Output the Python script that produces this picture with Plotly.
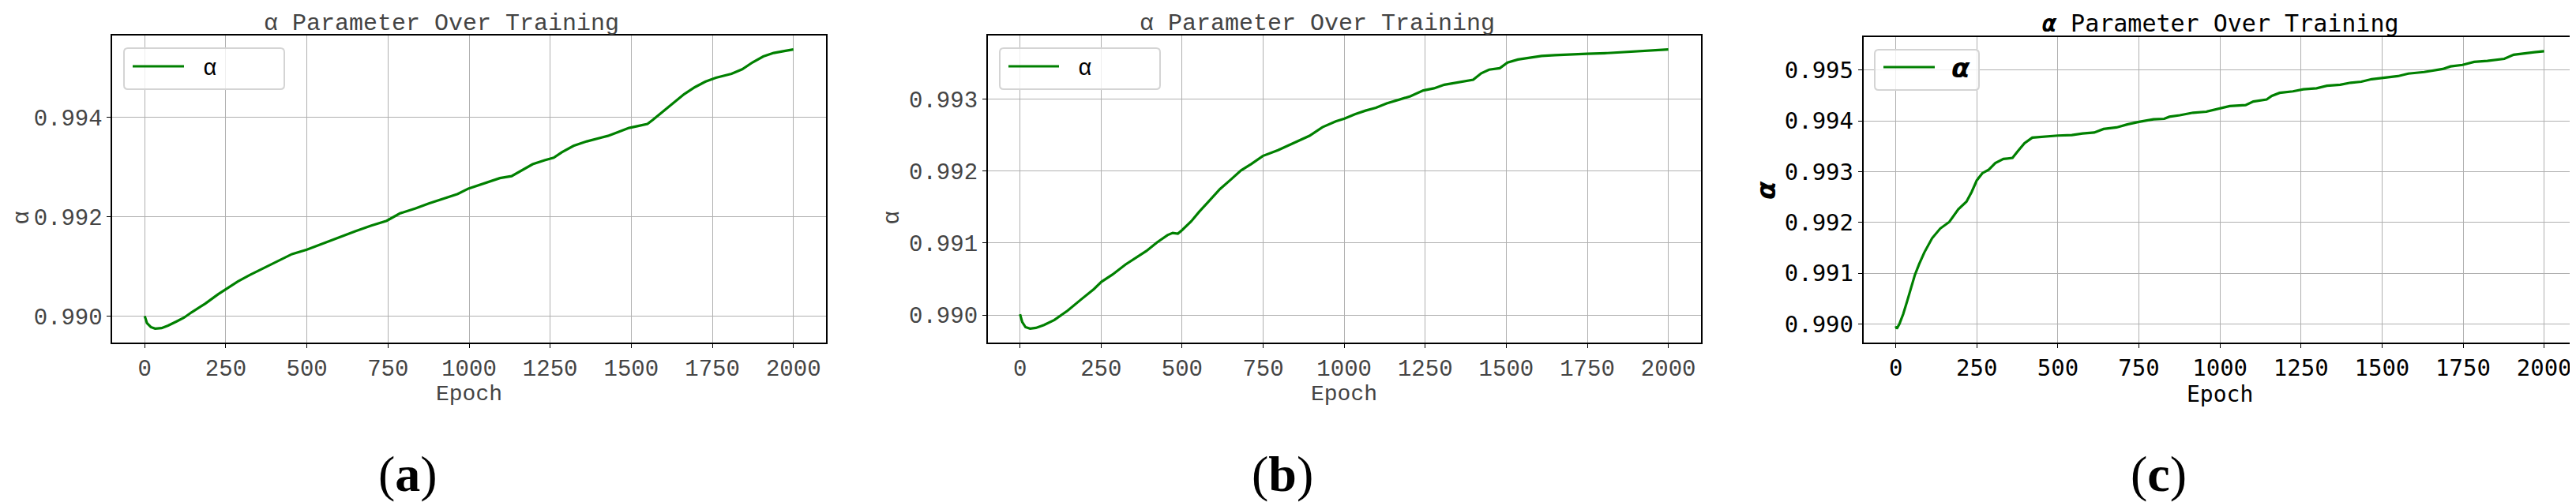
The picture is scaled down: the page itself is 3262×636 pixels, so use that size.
import plotly.graph_objects as go

W, H = 3262, 636

# alpha values
epochs_a = [0, 7, 19, 32, 52, 72, 97, 121, 145, 186, 226, 251, 287, 324, 364, 405, 454, 500, 551, 600,
            649, 697, 746, 787, 835, 876, 925, 965, 998, 1030, 1063, 1095, 1131, 1160, 1196, 1233, 1261, 1286, 1322, 1363,
            1395, 1428, 1460, 1493, 1521, 1550, 1566, 1598, 1631, 1663, 1696, 1728, 1761, 1809, 1842, 1874, 1907, 1939, 1972, 2000]
alpha_a = [0.99000, 0.98986, 0.98978, 0.98975, 0.98976, 0.98981, 0.98989, 0.98997, 0.99008, 0.99025,
           0.99044, 0.99055, 0.99070, 0.99083, 0.99096, 0.99109, 0.99125, 0.99134, 0.99147, 0.99159,
           0.99171, 0.99182, 0.99192, 0.99207, 0.99217, 0.99227, 0.99238, 0.99246, 0.99257, 0.99264,
           0.99272, 0.99278, 0.99282, 0.99293, 0.99306, 0.99314, 0.99319, 0.99330, 0.99343, 0.99352,
           0.99358, 0.99363, 0.99371, 0.99379, 0.99383, 0.99387, 0.99395, 0.99412, 0.99431, 0.99447,
           0.99461, 0.99472, 0.99480, 0.99488, 0.99497, 0.99511, 0.99523, 0.99530, 0.99534, 0.99537]

epochs_b = [0, 7, 17, 31, 49, 74, 106, 147, 187, 228, 251, 285, 325, 366, 390, 423, 455, 471, 487, 500,
            528, 552, 585, 617, 650, 682, 714, 749, 796, 844, 893, 933, 974, 1001, 1033, 1066, 1098, 1131, 1163, 1204,
            1244, 1277, 1309, 1350, 1398, 1423, 1447, 1480, 1504, 1536, 1569, 1609, 1650, 1690, 1749, 1812, 1877, 1942, 2000]
alpha_b = [0.99001, 0.98990, 0.98983, 0.98981, 0.98982, 0.98986, 0.98993, 0.99006, 0.99021, 0.99036,
           0.99046, 0.99056, 0.99070, 0.99082, 0.99089, 0.99101, 0.99111, 0.99114, 0.99113, 0.99118,
           0.99130, 0.99143, 0.99159, 0.99175, 0.99188, 0.99201, 0.99210, 0.99221, 0.99229, 0.99239,
           0.99249, 0.99261, 0.99269, 0.99273, 0.99279, 0.99284, 0.99288, 0.99294, 0.99298, 0.99304,
           0.99312, 0.99315, 0.99320, 0.99323, 0.99327, 0.99336, 0.99341, 0.99343, 0.99351, 0.99355,
           0.99357, 0.99360, 0.99361, 0.99362, 0.99363, 0.99364, 0.99366, 0.99368, 0.99369]

epochs_c = [0, 3, 11, 23, 35, 47, 59, 72, 88, 112, 137, 165, 193, 218, 234, 250, 267, 287, 307, 332,
            360, 376, 397, 421, 454, 500, 543, 576, 612, 641, 681, 714, 750, 795, 828, 844, 876, 917, 958, 1000,
            1030, 1079, 1103, 1144, 1160, 1184, 1225, 1257, 1298, 1330, 1371, 1403, 1436, 1468, 1500, 1549, 1581, 1630, 1687, 1711,
            1748, 1784, 1825, 1877, 1906, 1938, 1970, 2000]
alpha_c = [0.98996, 0.98991, 0.99000, 0.99020, 0.99045, 0.99071, 0.99097, 0.99118, 0.99141, 0.99169,
           0.99188, 0.99201, 0.99226, 0.99241, 0.99260, 0.99283, 0.99297, 0.99304, 0.99317, 0.99325,
           0.99327, 0.99340, 0.99356, 0.99367, 0.99369, 0.99371, 0.99372, 0.99375, 0.99377, 0.99384,
           0.99387, 0.99393, 0.99398, 0.99403, 0.99404, 0.99408, 0.99411, 0.99416, 0.99418, 0.99425,
           0.99429, 0.99431, 0.99438, 0.99442, 0.99449, 0.99455, 0.99458, 0.99462, 0.99464, 0.99469,
           0.99471, 0.99475, 0.99477, 0.99482, 0.99484, 0.99488, 0.99493, 0.99496, 0.99502, 0.99507,
           0.99510, 0.99516, 0.99518, 0.99522, 0.99530, 0.99533, 0.99535, 0.99537]

captions = ["a", "b", "c"]
y_dticks = [0.002, 0.001, 0.001]

GREEN = "#008000"
MONO_AB = "Liberation Mono, Courier New, monospace"
MONO_C = "DejaVu Sans Mono, monospace"
GREY_TXT = "#444444"


def px(x):
    return x / W


def py(y):
    return 1 - y / H


def padded(vals):
    # matplotlib style 5% margins
    lo, hi = min(vals), max(vals)
    m = (hi - lo) * 0.05
    return [lo - m, hi + m]


def rounded_box(x0, y0, x1, y1, r=5):
    rx, ry = r / W, r / H
    a, b, c, d = px(x0), py(y1), px(x1), py(y0)
    return (f"M {a+rx},{b} L {c-rx},{b} Q {c},{b} {c},{b+ry} L {c},{d-ry} Q {c},{d} {c-rx},{d} "
            f"L {a+rx},{d} Q {a},{d} {a},{d-ry} L {a},{b+ry} Q {a},{b} {a+rx},{b} Z")


# panel geometry in pixels: plot area left, right, top, bottom
panels = [
    dict(x=epochs_a, y=alpha_a, box=(134.2, 1037.8, 37, 426), title_x=551, ylab=(1, 268),
         leg=(149, 352, 53, 105), sample=(160, 225, 76), legtxt=(257, 80), font=MONO_AB, color=GREY_TXT),
    dict(x=epochs_b, y=alpha_b, box=(1242.6, 2145.7, 37, 426), title_x=1660, ylab=(1103, 268),
         leg=(1258, 1461, 53, 105), sample=(1269, 1333, 76), legtxt=(1365, 80), font=MONO_AB, color=GREY_TXT),
    dict(x=epochs_c, y=alpha_c, box=(2351.6, 3254.7, 39.3, 426), title_x=2804, ylab=(2206, 233),
         leg=(2366, 2498, 55, 106), sample=(2377, 2442, 77), legtxt=(2475, 78), font=MONO_C, color="black"),
]

fig = go.Figure()
annotations = []
shapes = []

for i, p in enumerate(panels):
    n = "" if i == 0 else str(i + 1)
    fig.add_trace(go.Scatter(x=p["x"], y=p["y"], mode="lines", line=dict(color=GREEN, width=3.2),
                             xaxis="x" + n, yaxis="y" + n, showlegend=False))
    left, right, top, bottom = p["box"]
    axis_common = dict(showline=True, mirror=True, linecolor="black", linewidth=1.5,
                       ticks="outside", ticklen=5, tickcolor="black", tickwidth=1.2,
                       showgrid=True, gridcolor="#b0b0b0", gridwidth=1, zeroline=False,
                       tickfont=dict(family=p["font"], size=29, color=p["color"]))
    fig.update_layout(**{
        "xaxis" + n: dict(domain=[px(left), px(right)], anchor="y" + n, range=padded(p["x"]),
                          tick0=0, dtick=250, **axis_common),
        "yaxis" + n: dict(domain=[py(bottom), py(top)], anchor="x" + n, range=padded(p["y"]),
                          tick0=0.99, dtick=y_dticks[i], tickformat=".3f", **axis_common),
    })

    cx = (left + right) / 2
    if i < 2:
        title = "α Parameter Over Training"
        alpha_txt = "α"
        tfont = dict(family=p["font"], size=30, color=p["color"])
        afont = dict(family=p["font"], size=29, color="black")
    else:
        title = "<b><i>α</i></b> Parameter Over Training"
        alpha_txt = "<b><i>α</i></b>"
        tfont = dict(family=p["font"], size=30, color="black")
        afont = dict(family="DejaVu Sans", size=34, color="black")

    annotations += [
        dict(text=title, x=px(p["title_x"]), y=py(22), font=tfont),
        dict(text="Epoch", x=px(cx), y=py(491), font=dict(family=p["font"], size=28, color=p["color"])),
        dict(text=alpha_txt, x=px(p["ylab"][0]), y=py(p["ylab"][1]), textangle=-90, xanchor="left",
             font=dict(afont, color=p["color"] if i < 2 else "black")),
        dict(text=alpha_txt, x=px(p["legtxt"][0]), y=py(p["legtxt"][1]), font=afont),
        dict(text=f"(<b>{captions[i]}</b>)", x=px(cx - 78), y=py(592),
             font=dict(family="Liberation Serif, serif", size=64, color="black")),
    ]

    # legend box with the line sample
    l0, l1, l2, l3 = p["leg"]
    shapes.append(dict(type="path", xref="paper", yref="paper", path=rounded_box(l0, l2, l1, l3),
                       line=dict(color="#d4d4d4", width=2), fillcolor="rgba(255,255,255,0.8)"))
    s0, s1, sy = p["sample"]
    shapes.append(dict(type="line", xref="paper", yref="paper", x0=px(s0), x1=px(s1), y0=py(sy), y1=py(sy),
                       line=dict(color=GREEN, width=3)))

for a in annotations:
    a.setdefault("xanchor", "center")
    a.update(xref="paper", yref="paper", showarrow=False, yanchor="middle")

fig.update_layout(width=W, height=H, margin=dict(l=0, r=0, t=0, b=0),
                  paper_bgcolor="white", plot_bgcolor="white",
                  annotations=annotations, shapes=shapes, showlegend=False)

fig.write_html("out.html")
